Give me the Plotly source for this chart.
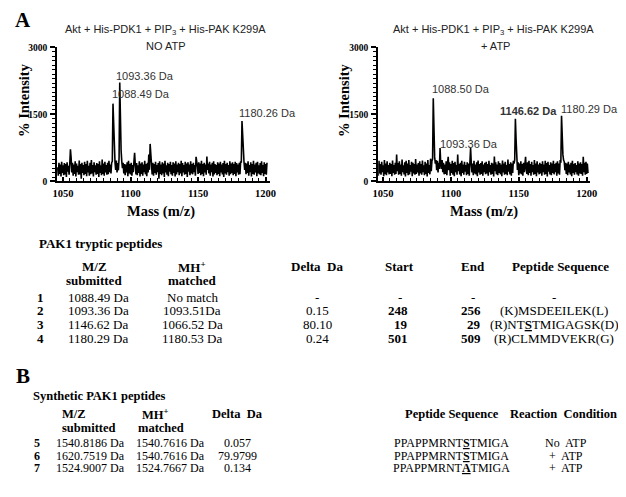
import numpy as np
import plotly.graph_objects as go

SERIF = "Liberation Serif"
SANS = "Liberation Sans"
# the page body has an 8 px margin, so the figure is drawn 8 px in from the window corner
OFF = 8
W, H = 626 - OFF, 497 - OFF

# spectra sampled every 0.5 Da from 1046 Da
mz_start = 1046.0
mz_step = 0.5

no_atp = [
    320, 130, 420, 170, 380, 110, 440, 190, 360, 140, 410, 160, 390, 100, 430, 220, 350, 150, 400, 720,
    530, 200, 420, 130, 380, 170, 450, 110, 400, 210, 350, 150, 470, 160, 390, 60, 420, 190, 370, 140,
    440, 170, 390, 120, 460, 200, 350, 130, 420, 160, 480, 180, 370, 110, 430, 210, 360, 150, 410, 170,
    390, 100, 450, 190, 360, 140, 490, 170, 400, 130, 440, 200, 370, 150, 420, 160, 460, 210, 380, 180,
    420, 450, 1740, 1060, 650, 420, 260, 470, 200, 410, 250, 520, 2210, 1060, 700, 450, 300, 420, 180, 390,
    140, 380, 200, 430, 120, 460, 180, 390, 160, 420, 130, 370, 210, 440, 640, 380, 160, 410, 140, 360,
    190, 450, 110, 400, 170, 430, 130, 380, 210, 460, 160, 390, 120, 420, 200, 600, 260, 840, 500, 370,
    160, 420, 130, 390, 190, 440, 150, 370, 210, 410, 60, 450, 170, 380, 140, 430, 180, 400, 100, 460,
    200, 360, 150, 420, 120, 390, 220, 440, 160, 370, 130, 430, 190, 400, 110, 450, 160, 380, 210, 420,
    140, 390, 180, 460, 120, 410, 200, 370, 150, 440, 170, 400, 100, 430, 220, 380, 140, 450, 180, 390,
    160, 420, 210, 370, 130, 550, 480, 340, 170, 430, 190, 400, 140, 460, 170, 390, 120, 420, 200, 380,
    150, 560, 260, 400, 180, 440, 130, 380, 210, 420, 110, 450, 160, 390, 190, 370, 140, 430, 170, 400,
    120, 440, 200, 380, 160, 410, 100, 460, 180, 390, 150, 420, 210, 370, 130, 450, 160, 400, 190, 430,
    140, 390, 170, 440, 120, 410, 200, 380, 150, 420, 160, 450, 420, 1350, 1000, 550, 430, 260, 420, 160,
    400, 190, 450, 130, 370, 210, 430, 110, 390, 170, 460, 150, 380, 200, 420, 120, 440, 180, 360, 160,
    410, 140, 450, 190, 370, 120, 430, 170, 390, 150, 420,
]

plus_atp = [
    340, 130, 460, 180, 390, 150, 440, 210, 360, 120, 480, 160, 400, 140, 450, 200, 370, 160, 420, 170,
    390, 120, 470, 190, 370, 150, 420, 170, 600, 230, 410, 150, 450, 170, 380, 130, 490, 210, 360, 160,
    430, 110, 460, 190, 400, 140, 480, 160, 370, 220, 440, 120, 420, 180, 390, 150, 500, 170, 380, 200,
    410, 130, 450, 180, 390, 150, 470, 210, 360, 140, 440, 170, 400, 110, 480, 190, 370, 160, 510, 230,
    460, 500, 1860, 950, 550, 400, 480, 250, 460, 200, 420, 280, 750, 400, 280, 480, 210, 420, 160, 380,
    170, 450, 140, 400, 550, 250, 430, 130, 390, 190, 460, 150, 410, 120, 440, 210, 370, 150, 600, 230,
    390, 160, 420, 120, 460, 190, 380, 150, 440, 220, 370, 140, 430, 170, 400, 130, 450, 750, 400, 200,
    400, 140, 460, 180, 380, 160, 430, 120, 470, 200, 390, 150, 410, 170, 450, 130, 380, 210, 420, 160,
    440, 180, 390, 130, 460, 210, 370, 150, 420, 170, 400, 110, 560, 230, 430, 160, 380, 140, 450, 190,
    410, 160, 380, 120, 470, 200, 400, 150, 440, 170, 370, 140, 490, 220, 390, 160, 430, 130, 400, 190,
    460, 400, 480, 1400, 950, 420, 260, 430, 140, 400, 180, 450, 160, 390, 130, 420, 210, 380, 550, 250,
    170, 430, 140, 460, 190, 390, 130, 440, 210, 370, 150, 480, 170, 400, 120, 450, 200, 380, 160, 420,
    180, 390, 130, 450, 210, 380, 150, 460, 170, 410, 110, 440, 220, 370, 160, 430, 140, 400, 190, 460,
    160, 390, 210, 420, 130, 450, 180, 400, 150, 480, 420, 1470, 720, 600, 480, 440, 250, 420, 170, 400,
    140, 440, 200, 380, 160, 420, 120, 460, 190, 390, 150, 410, 210, 370, 160, 450, 130, 400, 180, 430,
    170, 390, 130, 550, 210, 420, 150, 440, 170, 400, 190,
]

# peak labels: text, mass, intensity
no_atp_peaks = [("1093.36 Da", 1087.6, 2365), ("1088.49 Da", 1084.8, 1950), ("1180.26 Da", 1179.0, 1530)]
plus_atp_peaks = [("1088.50 Da", 1084.6, 2060), ("1093.36 Da", 1090.4, 830),
                  ("<b>1146.62 Da</b>", 1134.4, 1580), ("1180.29 Da", 1179.8, 1620)]

# table A
a_num = ["1", "2", "3", "4"]
a_mz = ["1088.49 Da", "1093.36 Da", "1146.62 Da", "1180.29 Da"]
a_mh = ["No match", "1093.51Da", "1066.52 Da", "1180.53 Da"]
a_delta = ["-", "0.15", "80.10", "0.24"]
a_start = ["-", "248", "19", "501"]
a_end = ["-", "256", "29", "509"]
a_seq = ["-", "(K)MSDEEILEK(L)", "(R)NT<b><u>S</u></b>TMIGAGSK(D)", "(R)CLMMDVEKR(G)"]

# table B
b_num = ["5", "6", "7"]
b_mz = ["1540.8186 Da", "1620.7519 Da", "1524.9007 Da"]
b_mh = ["1540.7616 Da", "1540.7616 Da", "1524.7667 Da"]
b_delta = ["0.057", "79.9799", "0.134"]
b_seq = ["PPAPPMRNT<b><u>S</u></b>TMIGA", "PPAPPMRNT<b><u>S</u></b>TMIGA", "PPAPPMRNT<b><u>A</u></b>TMIGA"]
b_cond = ["No\u00a0 ATP", "+\u00a0 ATP", "+\u00a0 ATP"]


def mz(vals):
    return mz_start + mz_step * np.arange(len(vals))


# window pixel -> paper fraction
def px(x):
    return (x - OFF) / W


def py(y):
    return 1 - (y - OFF) / H


fig = go.Figure()
fig.add_trace(go.Scatter(x=mz(no_atp), y=no_atp, mode="lines", line=dict(color="black", width=1.6),
                         xaxis="x", yaxis="y", showlegend=False, hoverinfo="skip"))
fig.add_trace(go.Scatter(x=mz(plus_atp), y=plus_atp, mode="lines", line=dict(color="black", width=1.6),
                         xaxis="x2", yaxis="y2", showlegend=False, hoverinfo="skip"))

yax = dict(range=[0, 3000], dtick=1500, ticks="outside", ticklen=5, tickwidth=1.5, tickcolor="black",
           showline=True, linewidth=2, linecolor="black", showgrid=False, zeroline=False,
           minor=dict(dtick=100, ticks="outside", ticklen=3, tickwidth=1, tickcolor="black"),
           tickfont=dict(family=SERIF, size=9.5, color="black", weight="bold"), ticklabelstandoff=1,
           domain=[py(180), py(43)])
xax = dict(tick0=1050, dtick=50, ticks="inside", ticklen=4, tickwidth=1.5, tickcolor="black",
           showline=True, linewidth=2, linecolor="black", showgrid=False, zeroline=False,
           minor=dict(tick0=1050, dtick=5, ticks="inside", ticklen=3, tickwidth=1, tickcolor="black"),
           tickfont=dict(family=SERIF, size=10.5, color="black", weight="bold"), ticklabelstandoff=1)

fig.update_layout(
    width=W, height=H, margin=dict(l=0, r=0, t=0, b=0),
    paper_bgcolor="white", plot_bgcolor="white",
    xaxis=dict(xax, range=[1045.6, 1203.6], domain=[px(52), px(270)], anchor="y"),
    yaxis=dict(yax, anchor="x"),
    xaxis2=dict(xax, range=[1046.4, 1202.2], domain=[px(380), px(596)], anchor="y2"),
    yaxis2=dict(yax, anchor="x2"),
)

ann = []


def txt(x, y, s, size=13, bold=False, anchor="center", family=SERIF, color="black", angle=0):
    ann.append(dict(x=px(x), y=py(y), xref="paper", yref="paper", text=s, showarrow=False,
                    xanchor=anchor, yanchor="middle", textangle=angle,
                    font=dict(family=family, size=size, color=color, weight="bold" if bold else "normal")))


# panel letters and plot titles
txt(7, 15, "A", size=21, bold=True, anchor="left")
txt(8, 379, "B", size=21, bold=True, anchor="left")
title1 = "Akt + His-PDK1 + PIP<sub>3</sub> + His-PAK K299A"
txt(163, 25, title1, size=11, family=SANS, color="#222")
txt(163, 42, "NO ATP", size=11, family=SANS, color="#222")
txt(498, 25, title1, size=11, family=SANS, color="#222")
txt(500, 42, "+ ATP", size=11, family=SANS, color="#222")

# axis titles
for cx in [18, 345]:
    txt(cx, 97, "% Intensity", size=14.5, bold=True, angle=-90)
txt(158, 211, "Mass (m/z)", size=14.5, bold=True)
txt(488, 211, "Mass (m/z)", size=14.5, bold=True)

# peak labels
for xr, yr, peaks in [("x", "y", no_atp_peaks), ("x2", "y2", plus_atp_peaks)]:
    for s, m, v in peaks:
        ann.append(dict(x=m, y=v, xref=xr, yref=yr, text=s, showarrow=False, xanchor="left",
                        yanchor="middle", font=dict(family=SANS, size=11, color="#333")))

# table A
txt(31, 243, "PAK1 tryptic peptides", bold=True, anchor="left")
ha1, ha2 = 267, 281
for cx, l1, l2 in [(90, "M/Z", "submitted"), (190, "MH<sup>+</sup>", "matched")]:
    txt(cx, ha1, l1, bold=True)
    txt(cx, ha2, l2, bold=True)
txt(318, ha1, "Delta\u00a0 Da", bold=True)
txt(402, ha1, "Start", bold=True)
txt(477, ha1, "End", bold=True)
txt(566, ha1, "Peptide Sequence", bold=True)
rows_a = [298, 312, 326, 340]
for i, ry in enumerate(rows_a):
    txt(35, ry, a_num[i], bold=True)
    txt(94, ry, a_mz[i])
    txt(190, ry, a_mh[i])
    txt(318, ry, a_delta[i])
    for cx, v in [(412, a_start[i]), (487, a_end[i])]:
        if v == "-":
            txt(cx - 10, ry, v)
        else:
            txt(cx, ry, v, bold=True, anchor="right")
    txt(560, ry, a_seq[i])

# table B
txt(25, 399, "Synthetic PAK1 peptides", size=12.5, bold=True, anchor="left")
hb1, hb2 = 417, 432
txt(55, hb1, "M/Z", size=12.5, bold=True, anchor="left")
txt(55, hb2, "submitted", size=12.5, bold=True, anchor="left")
txt(137, hb1, "MH<sup>+</sup>", size=12.5, bold=True, anchor="left")
txt(133, hb2, "matched", size=12.5, bold=True, anchor="left")
txt(236, hb1, "Delta\u00a0 Da", size=12.5, bold=True)
txt(455, hb1, "Peptide Sequence", size=12.5, bold=True)
txt(569, hb1, "Reaction\u00a0 Condition", size=12.5, bold=True)
rows_b = [447, 460, 472]
for i, ry in enumerate(rows_b):
    txt(31, ry, b_num[i], size=12, bold=True)
    txt(86, ry, b_mz[i], size=12)
    txt(168, ry, b_mh[i], size=12)
    txt(236, ry, b_delta[i], size=12)
    txt(455, ry, b_seq[i], size=12)
    txt(572, ry, b_cond[i], size=12)

fig.update_layout(annotations=ann)
fig.write_html("out.html")
